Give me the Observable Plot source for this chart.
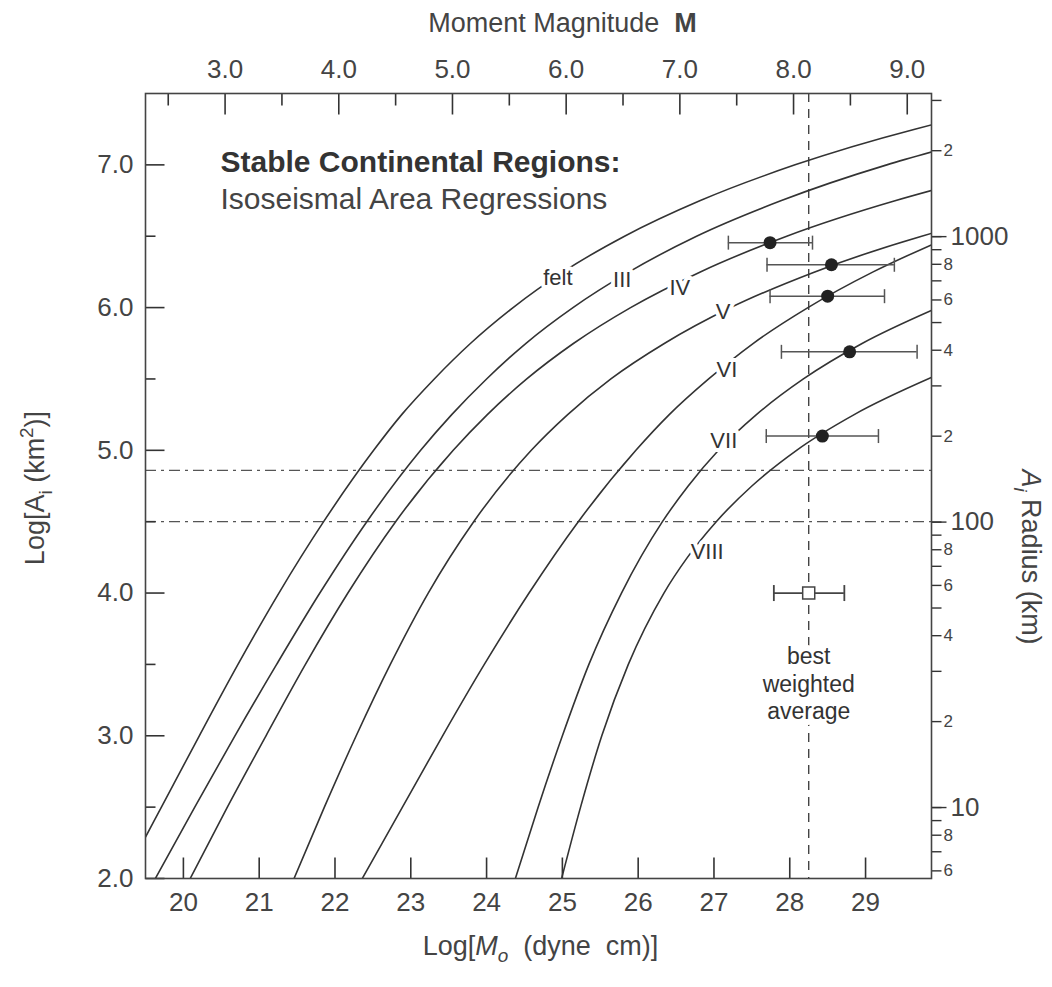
<!DOCTYPE html>
<html><head><meta charset="utf-8">
<script src="https://cdn.jsdelivr.net/npm/d3@7"></script>
<script src="https://cdn.jsdelivr.net/npm/@observablehq/plot@0.6"></script>
<style>
html,body{margin:0;padding:0;background:#fff;}
svg{display:block;}
</style></head><body>
<div id="chart"></div>
<script>
// ---------- data ----------
// Regression curves: log A_i (km^2) levels and the matching log M0 (dyne cm)
const feltLogA  = [2.29, 2.5, 3.0, 3.5, 4.0, 4.5, 5.0, 5.25, 5.5, 5.75, 6.0, 6.25, 6.5, 6.75, 7.0, 7.25, 7.28];
const feltLogMo = [19.50, 19.71, 20.21, 20.72, 21.26, 21.85, 22.51, 22.88, 23.31, 23.79, 24.35, 25.01, 25.82, 26.82, 28.07, 29.65, 29.87];
const iiiLogA   = [2.0, 2.5, 3.0, 3.5, 4.0, 4.5, 5.0, 5.25, 5.5, 5.75, 6.0, 6.25, 6.5, 6.75, 7.0, 7.09];
const iiiLogMo  = [19.63, 20.15, 20.68, 21.23, 21.80, 22.42, 23.13, 23.54, 24.00, 24.52, 25.14, 25.88, 26.77, 27.89, 29.28, 29.87];
const ivLogA    = [2.0, 2.5, 3.0, 3.5, 4.0, 4.5, 5.0, 5.25, 5.5, 5.75, 6.0, 6.25, 6.5, 6.75, 6.82];
const ivLogMo   = [20.09, 20.58, 21.09, 21.61, 22.17, 22.80, 23.56, 24.01, 24.53, 25.15, 25.90, 26.82, 27.96, 29.40, 29.87];
const vLogA     = [2.0, 2.5, 3.0, 3.5, 4.0, 4.5, 5.0, 5.25, 5.5, 5.75, 6.0, 6.25, 6.5, 6.52];
const vLogMo    = [21.46, 21.86, 22.28, 22.73, 23.23, 23.83, 24.59, 25.07, 25.64, 26.35, 27.22, 28.33, 29.74, 29.87];
const viLogA    = [2.0, 2.5, 3.0, 3.5, 4.0, 4.5, 5.0, 5.25, 5.5, 5.75, 6.0, 6.25, 6.44];
const viLogMo   = [22.36, 22.89, 23.42, 23.97, 24.56, 25.21, 25.97, 26.41, 26.93, 27.52, 28.24, 29.10, 29.87];
const viiLogA   = [2.0, 2.5, 3.0, 3.5, 4.0, 4.5, 4.75, 5.0, 5.25, 5.5, 5.75, 5.98];
const viiLogMo  = [24.38, 24.68, 25.00, 25.35, 25.78, 26.32, 26.66, 27.06, 27.56, 28.18, 28.96, 29.87];
const viiiLogA  = [2.0, 2.5, 3.0, 3.5, 4.0, 4.25, 4.5, 4.75, 5.0, 5.25, 5.51];
const viiiLogMo = [24.99, 25.24, 25.52, 25.87, 26.34, 26.65, 27.03, 27.50, 28.09, 28.85, 29.87];

// Curve labels
const labelText = ["felt", "III", "IV", "V", "VI", "VII", "VIII"];
const labelLogMo = [24.94, 25.79, 26.55, 27.12, 27.17, 27.13, 26.91];
const labelLogA  = [6.21, 6.195, 6.14, 5.97, 5.565, 5.065, 4.29];

// Observed isoseismal areas with moment error bars
const obsLogMo = [27.74, 28.55, 28.50, 28.79, 28.43];
const obsLogA  = [6.455, 6.30, 6.08, 5.69, 5.10];
const obsLo    = [27.19, 27.70, 27.74, 27.89, 27.69];
const obsHi    = [28.30, 29.38, 29.25, 29.68, 29.17];

// Best weighted average
const bestLogMo = [28.25];
const bestLogA  = [4.0];
const bestLo    = [27.79];
const bestHi    = [28.72];
const bestLabelLogA = [3.37];

// Reference lines
const dashDotLevels = [4.86, 4.5];

// Axes
const xTicks = [20, 21, 22, 23, 24, 25, 26, 27, 28, 29];
const yMajor = [2, 3, 4, 5, 6, 7];
const yMinor = [2.5, 3.5, 4.5, 5.5, 6.5];
const topMajor = [3, 4, 5, 6, 7, 8, 9];
const topMinor = [2.5, 3.5, 4.5, 5.5, 6.5, 7.5, 8.5];
const radiusTicks = [3000, 2000, 1000, 900, 800, 700, 600, 500, 400, 300, 200, 100, 90, 80, 70, 60, 50, 40, 30, 20, 10, 9, 8, 7, 6];
const radiusMajor = [1000, 100, 10];
const radiusSmallLabeled = [2000, 800, 600, 400, 200, 80, 60, 40, 20, 8, 6];

// ---------- build ----------
const curveDefs = [
  ["felt", feltLogA, feltLogMo], ["III", iiiLogA, iiiLogMo], ["IV", ivLogA, ivLogMo],
  ["V", vLogA, vLogMo], ["VI", viLogA, viLogMo], ["VII", viiLogA, viiLogMo], ["VIII", viiiLogA, viiiLogMo]
];
const curveRows = curveDefs.flatMap(([name, A, M]) => A.map((a, i) => ({curve: name, logA: a, logMo: M[i]})));
const labelRows = labelText.map((t, i) => ({t, logMo: labelLogMo[i], logA: labelLogA[i]}));
const obsRows = obsLogMo.map((m, i) => ({logMo: m, logA: obsLogA[i], lo: obsLo[i], hi: obsHi[i]}));
const bestRows = bestLogMo.map((m, i) => ({logMo: m, logA: bestLogA[i], lo: bestLo[i], hi: bestHi[i], labelA: bestLabelLogA[i]}));

const magToLogMo = m => 1.5 * m + 16.05;         // Hanks & Kanamori
const radiusToLogA = r => Math.log10(Math.PI * r * r);

const tickSym = (ux, uy) => ({draw(ctx, size) { const l = Math.sqrt(size / Math.PI); ctx.moveTo(0, 0); ctx.lineTo(ux * l, uy * l); }});
const vbar = {draw(ctx, size) { const l = Math.sqrt(size / Math.PI); ctx.moveTo(0, -l); ctx.lineTo(0, l); }};

const ink = "#333";
const font = "'Liberation Sans', Arial, Helvetica, sans-serif";

const chart = Plot.plot({
  width: 1052, height: 987,
  marginLeft: 145, marginRight: 121, marginTop: 93, marginBottom: 109,
  x: {domain: [19.5, 29.87], axis: null},
  y: {domain: [2, 7.5], axis: null},
  style: {fontFamily: font, background: "white", color: ink},
  marks: [
    Plot.ruleY(dashDotLevels, {y: d => d, stroke: "#555", strokeWidth: 1.2, strokeDasharray: "11,5,3,5"}),
    Plot.ruleX(bestLogMo, {x: d => d, stroke: "#444", strokeWidth: 1.4, strokeDasharray: "9,7"}),
    Plot.line(curveRows, {x: "logMo", y: "logA", z: "curve", curve: "monotone-x", stroke: ink, strokeWidth: 1.6, clip: true}),
    // error bars
    Plot.ruleY(obsRows, {y: "logA", x1: "lo", x2: "hi", stroke: "#555", strokeWidth: 1.5}),
    Plot.dot(obsRows, {x: "lo", y: "logA", symbol: vbar, r: 7, stroke: "#555", strokeWidth: 1.5, fill: "none"}),
    Plot.dot(obsRows, {x: "hi", y: "logA", symbol: vbar, r: 7, stroke: "#555", strokeWidth: 1.5, fill: "none"}),
    Plot.dot(obsRows, {x: "logMo", y: "logA", r: 6.5, fill: "#222", stroke: "none"}),
    Plot.ruleY(bestRows, {y: "logA", x1: "lo", x2: "hi", stroke: "#444", strokeWidth: 1.8}),
    Plot.dot(bestRows, {x: "lo", y: "logA", symbol: vbar, r: 8, stroke: "#444", strokeWidth: 1.8, fill: "none"}),
    Plot.dot(bestRows, {x: "hi", y: "logA", symbol: vbar, r: 8, stroke: "#444", strokeWidth: 1.8, fill: "none"}),
    Plot.dot(bestRows, {x: "logMo", y: "logA", symbol: "square", r: 6.8, fill: "white", stroke: "#444", strokeWidth: 1.5}),
    Plot.text(bestRows, {x: "logMo", y: "labelA", text: () => "best\nweighted\naverage", lineHeight: 1.2, fontSize: 23, fill: ink, stroke: "white", strokeWidth: 12, paintOrder: "stroke"}),
    // curve labels with a white halo that breaks the line
    Plot.text(labelRows, {x: "logMo", y: "logA", text: "t", fontSize: 22, fill: ink, stroke: "white", strokeWidth: 8, paintOrder: "stroke"}),
    // in-plot title
    Plot.text(["Stable Continental Regions:"], {text: d => d, frameAnchor: "top-left", dx: 75, dy: 78, textAnchor: "start", lineAnchor: "bottom", fontSize: 30, fontWeight: "bold", fill: ink}),
    Plot.text(["Isoseismal Area Regressions"], {text: d => d, frameAnchor: "top-left", dx: 75, dy: 115, textAnchor: "start", lineAnchor: "bottom", fontSize: 30, fill: "#444"}),
    // inward ticks
    Plot.dot(xTicks, {x: d => d, frameAnchor: "bottom", symbol: tickSym(0, -1), r: 21, stroke: ink, strokeWidth: 1.6, fill: "none"}),
    Plot.dot(topMajor, {x: magToLogMo, frameAnchor: "top", symbol: tickSym(0, 1), r: 21, stroke: ink, strokeWidth: 1.6, fill: "none"}),
    Plot.dot(topMinor, {x: magToLogMo, frameAnchor: "top", symbol: tickSym(0, 1), r: 12, stroke: ink, strokeWidth: 1.6, fill: "none"}),
    Plot.dot(yMajor, {y: d => d, frameAnchor: "left", symbol: tickSym(1, 0), r: 19, stroke: ink, strokeWidth: 1.6, fill: "none"}),
    Plot.dot(yMinor, {y: d => d, frameAnchor: "left", symbol: tickSym(1, 0), r: 10, stroke: ink, strokeWidth: 1.6, fill: "none"}),
    // outward radius ticks on the right
    Plot.dot(radiusTicks, {y: radiusToLogA, frameAnchor: "right", symbol: tickSym(1, 0), r: 10, stroke: ink, strokeWidth: 1.4, fill: "none"}),
    Plot.dot(radiusMajor, {y: radiusToLogA, frameAnchor: "right", symbol: tickSym(1, 0), r: 15, stroke: ink, strokeWidth: 1.4, fill: "none"}),
    // tick labels
    Plot.text(xTicks, {x: d => d, text: d => String(d), frameAnchor: "bottom", lineAnchor: "top", dy: 14, fontSize: 26, fill: "#444"}),
    Plot.text(topMajor, {x: magToLogMo, text: d => d.toFixed(1), frameAnchor: "top", lineAnchor: "bottom", dy: -16, fontSize: 26, fill: "#444"}),
    Plot.text(yMajor, {y: d => d, text: d => d.toFixed(1), frameAnchor: "left", textAnchor: "end", dx: -12, fontSize: 26, fill: "#444"}),
    Plot.text(radiusMajor, {y: radiusToLogA, text: d => String(d), frameAnchor: "right", textAnchor: "start", dx: 19, fontSize: 26, fill: "#444"}),
    Plot.text(radiusSmallLabeled, {y: radiusToLogA, text: d => String(d).charAt(0), frameAnchor: "right", textAnchor: "start", dx: 12, fontSize: 17, fill: "#444"}),
    // axis titles
    Plot.text(["Moment Magnitude  M"], {text: d => d, frameAnchor: "top", textAnchor: "middle", lineAnchor: "bottom", dx: 24, dy: -62, fontSize: 27, fill: "#444"}),
    Plot.text(["Log[Mo  (dyne  cm)]"], {text: d => d, frameAnchor: "bottom", textAnchor: "middle", lineAnchor: "bottom", dx: 2, dy: 76, fontSize: 27, fill: "#444"}),
    Plot.text(["Log[Ai (km2)]"], {text: d => d, frameAnchor: "left", textAnchor: "middle", rotate: -90, dx: -110, dy: 2, fontSize: 27, fill: "#444"}),
    Plot.text(["Ai Radius (km)"], {text: d => d, frameAnchor: "right", textAnchor: "middle", rotate: 90, dx: 99, dy: 71, fontSize: 27, fill: "#444"}),
    Plot.frame({stroke: "#444", strokeWidth: 1.6})
  ]
});

document.getElementById("chart").appendChild(chart);

// rich text (sub/superscripts, bold, italic) for the axis titles
function rich(match, fs, parts) {
  d3.select(chart).selectAll("text").filter(function() { return this.textContent === match; }).each(function() {
    const el = d3.select(this);
    el.text(null).style("white-space", "pre");
    let shift = 0;
    for (const p of parts) {
      const target = p.sub ? 0.28 * fs : p.sup ? -0.42 * fs : 0;
      const ts = el.append("tspan").text(p.t);
      if (p.sub || p.sup) ts.attr("font-size", (0.7 * fs) + "px");
      if (p.b) ts.attr("font-weight", "bold");
      if (p.i) ts.attr("font-style", "italic");
      if (target - shift) ts.attr("dy", (target - shift) + "px");
      shift = target;
    }
  });
}
rich("Moment Magnitude  M", 27, [{t: "Moment Magnitude  "}, {t: "M", b: true}]);
rich("Log[Mo  (dyne  cm)]", 27, [{t: "Log["}, {t: "M", i: true}, {t: "o", sub: true, i: true}, {t: "  (dyne  cm)]"}]);
rich("Log[Ai (km2)]", 27, [{t: "Log[A"}, {t: "i", sub: true}, {t: " (km"}, {t: "2", sup: true}, {t: ")]"}]);
rich("Ai Radius (km)", 27, [{t: "A", i: true}, {t: "i", sub: true, i: true}, {t: " Radius (km)"}]);
d3.select(chart).selectAll('g[stroke="white"]').attr("paint-order", "stroke");
</script></body></html>
